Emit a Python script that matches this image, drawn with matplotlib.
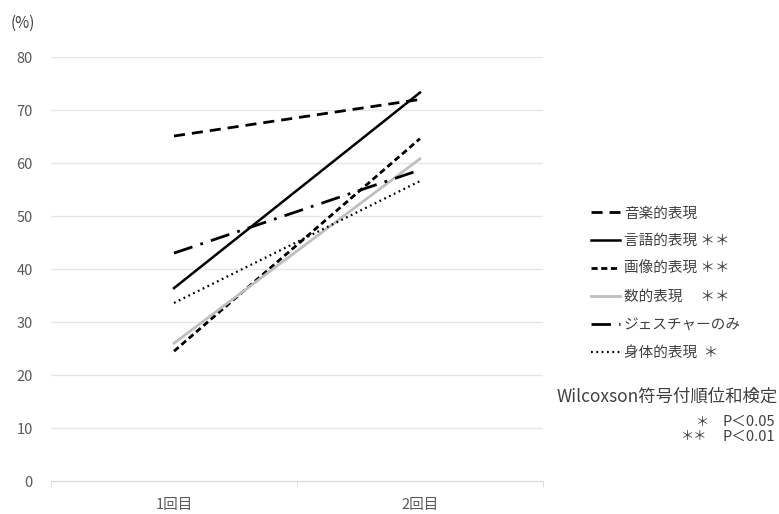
import matplotlib.pyplot as plt

plt.rcParams['font.family'] = ['Noto Sans CJK JP', 'DejaVu Sans']

kaisuu = ['1回目', '2回目']
ongaku = [65.1, 72.0]
gengo = [36.4, 73.3]
gazou = [24.5, 64.6]
suuteki = [26.0, 60.8]
gesture = [43.0, 58.7]
shintai = [33.6, 56.6]

fig = plt.figure(figsize=(7.79, 5.14), dpi=100)
ax = fig.add_axes([0.0655, 0.0642, 0.6315, 0.8248])

x = [0, 1]
ax.plot(x, ongaku, color='black', lw=2, dashes=(4, 2.5), label='音楽的表現')
ax.plot(x, gengo, color='black', lw=1.8, label='言語的表現 ＊＊')
ax.plot(x, gazou, color='black', lw=2, dashes=(2.2, 1.3), label='画像的表現 ＊＊')
ax.plot(x, suuteki, color='#bfbfbf', lw=2, label='数的表現　 ＊＊')
ax.plot(x, gesture, color='black', lw=2, dashes=(7, 3, 1, 3), label='ジェスチャーのみ')
ax.plot(x, shintai, color='black', lw=1.6, dashes=(0.8, 1.6), label='身体的表現  ＊')

ax.set_xlim(-0.5, 1.5)
ax.set_ylim(0, 80)
ax.set_yticks(range(0, 81, 10))
ax.set_xticks(x)
ax.set_xticklabels(kaisuu)
ax.set_xticks([-0.5, 0.5, 1.5], minor=True)
ax.tick_params(axis='x', which='major', length=0, pad=12, colors='#595959', labelsize=10.5)
ax.tick_params(axis='x', which='minor', length=4, color='#d9d9d9')
ax.tick_params(axis='y', length=0, pad=13, colors='#595959', labelsize=10.5)
ax.grid(axis='y', color='#e6e6e6', lw=1)
ax.set_axisbelow(True)
for s in ['top', 'right', 'left']:
    ax.spines[s].set_visible(False)
ax.spines['bottom'].set_color('#d9d9d9')

fig.text(0.013, 0.955, '(%)', fontsize=11, color='#404040', va='center')

leg = fig.legend(loc='upper left', bbox_to_anchor=(0.742, 0.624), frameon=False,
                 fontsize=10.5, labelspacing=0.95, handlelength=2.0, handletextpad=0.25)
for t in leg.get_texts():
    t.set_color('#404040')

fig.text(0.715, 0.229, 'Wilcoxson符号付順位和検定', fontsize=12.5, color='#404040', va='center')
fig.text(0.893, 0.179, '＊', fontsize=9.5, color='#404040', va='center')
fig.text(0.927, 0.179, 'P＜0.05', fontsize=10.5, color='#404040', va='center')
fig.text(0.874, 0.150, '＊＊', fontsize=9.5, color='#404040', va='center')
fig.text(0.927, 0.150, 'P＜0.01', fontsize=10.5, color='#404040', va='center')

fig.savefig('out.png', dpi=100)
